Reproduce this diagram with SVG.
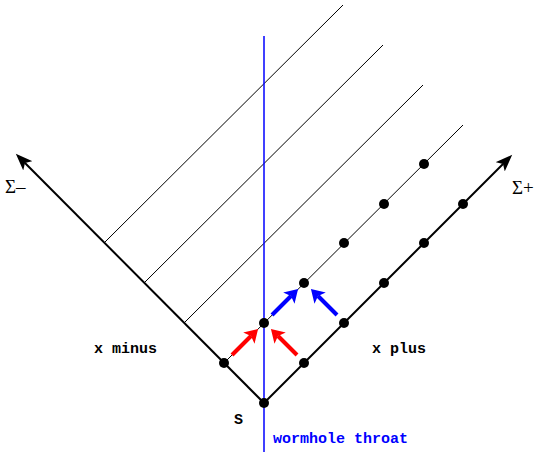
<svg xmlns="http://www.w3.org/2000/svg" width="535" height="452" viewBox="0 0 535 452">
<style>
.thin{stroke:#000;stroke-width:1;fill:none}
.axis{stroke:#000;stroke-width:2;fill:none}
.throat{stroke:#0000ff;stroke-width:1.5;fill:none}
.red{stroke:#ff0000;stroke-width:4;fill:none}
.blue{stroke:#0000ff;stroke-width:4;fill:none}
.dot{fill:#000}
.lbl{font-family:"Liberation Mono","Courier New",monospace;font-weight:bold;font-size:15px;fill:#000}
.sig{font-family:"Liberation Serif","Times New Roman",serif;font-size:19px;fill:#000}
</style>
<defs>
<marker id="axHead" markerUnits="userSpaceOnUse" markerWidth="20" markerHeight="14" viewBox="0 -7 20 14" refX="4" refY="0" orient="auto">
<path d="M0,-6.5 L17,0 L0,6.5 L4,0 Z" fill="#000"/>
</marker>
<marker id="redHead" markerUnits="userSpaceOnUse" markerWidth="16" markerHeight="18" viewBox="0 -9 16 18" refX="3" refY="0" orient="auto">
<path d="M0,-8 L13,0 L0,8 L3,0 Z" fill="#ff0000"/>
</marker>
<marker id="blueHead" markerUnits="userSpaceOnUse" markerWidth="16" markerHeight="18" viewBox="0 -9 16 18" refX="3" refY="0" orient="auto">
<path d="M0,-8 L13,0 L0,8 L3,0 Z" fill="#0000ff"/>
</marker>
</defs>
<g id="connectors">
<line class="thin" x1="104" y1="243" x2="343" y2="5"/>
<line class="thin" x1="144" y1="283" x2="383" y2="45"/>
<line class="thin" x1="184" y1="323" x2="423" y2="85"/>
<line class="thin" x1="224" y1="363" x2="463" y2="125"/>
<line class="throat" x1="264" y1="36" x2="264" y2="452"/>
<line class="axis" x1="264" y1="403" x2="25" y2="163" marker-end="url(#axHead)"/>
<line class="axis" x1="264" y1="403" x2="503" y2="164" marker-end="url(#axHead)"/>
<line class="red" x1="232" y1="355" x2="251" y2="336" marker-end="url(#redHead)"/>
<line class="red" x1="297" y1="355" x2="278" y2="336" marker-end="url(#redHead)"/>
<line class="blue" x1="272" y1="315" x2="291" y2="296" marker-end="url(#blueHead)"/>
<line class="blue" x1="337" y1="315" x2="318" y2="296" marker-end="url(#blueHead)"/>
</g>
<g id="node-S"><circle class="dot" cx="264" cy="403" r="5"/><text class="lbl" x="234" y="424">S</text></g>
<g id="node-L1"><circle class="dot" cx="224" cy="363" r="5"/></g>
<g id="node-R1"><circle class="dot" cx="304" cy="363" r="5"/></g>
<g id="node-R2"><circle class="dot" cx="344" cy="323" r="5"/></g>
<g id="node-R3"><circle class="dot" cx="384" cy="283" r="5"/></g>
<g id="node-R4"><circle class="dot" cx="424" cy="243" r="5"/></g>
<g id="node-R5"><circle class="dot" cx="463" cy="204" r="5"/></g>
<g id="node-I1"><circle class="dot" cx="264" cy="323" r="5"/></g>
<g id="node-I2"><circle class="dot" cx="304" cy="283" r="5"/></g>
<g id="node-I3"><circle class="dot" cx="344" cy="243" r="5"/></g>
<g id="node-I4"><circle class="dot" cx="384" cy="204" r="5"/></g>
<g id="node-I5"><circle class="dot" cx="424" cy="164" r="5"/></g>
<g id="labels">
<text class="lbl" x="94" y="353">x minus</text>
<text class="lbl" x="372" y="353">x plus</text>
<text class="lbl" x="273" y="443" style="fill:#0000ff">wormhole throat</text>
<text class="sig" x="5" y="193">Σ–</text>
<text class="sig" x="512" y="194">Σ+</text>
</g>
</svg>
